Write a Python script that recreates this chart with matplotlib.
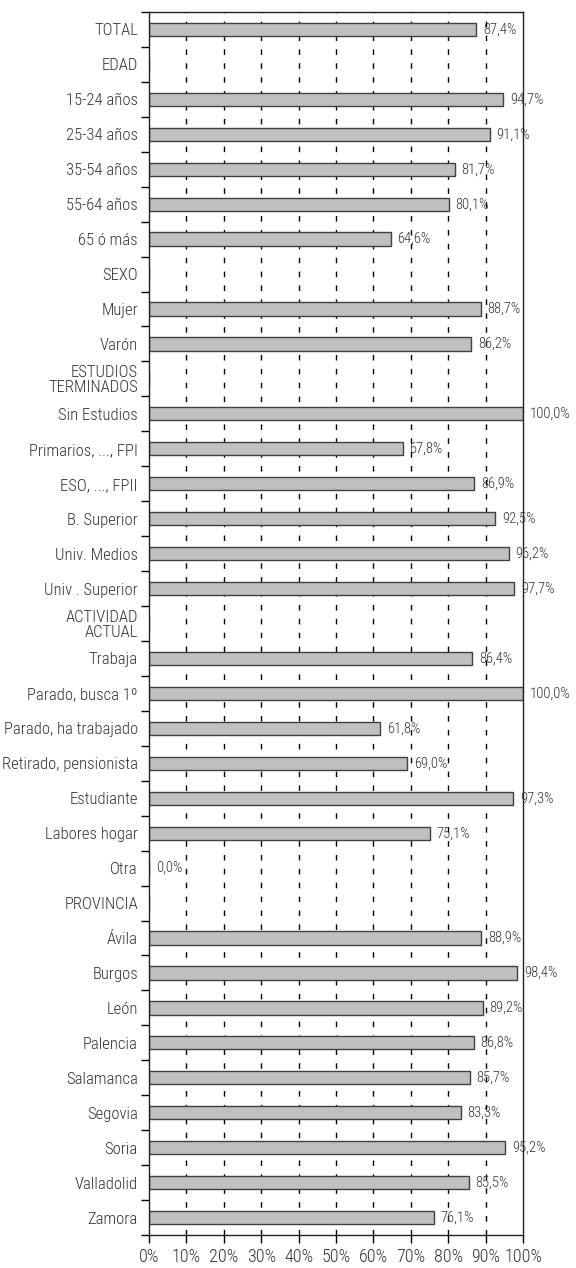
import numpy as np
import matplotlib
matplotlib.use("Agg")
import matplotlib.pyplot as plt
from matplotlib import font_manager as fm
from matplotlib.ticker import FixedLocator

# Categories top to bottom; headers have no value (None)
labels = [
    "TOTAL", "EDAD", "15-24 años", "25-34 años", "35-54 años", "55-64 años", "65 ó más",
    "SEXO", "Mujer", "Varón",
    "ESTUDIOS\nTERMINADOS", "Sin Estudios", "Primarios, ..., FPI", "ESO, ..., FPII",
    "B. Superior", "Univ. Medios", "Univ . Superior",
    "ACTIVIDAD\nACTUAL", "Trabaja", "Parado, busca 1º", "Parado, ha trabajado",
    "Retirado, pensionista", "Estudiante", "Labores hogar", "Otra",
    "PROVINCIA", "Ávila", "Burgos", "León", "Palencia", "Salamanca", "Segovia",
    "Soria", "Valladolid", "Zamora",
]
values = [
    87.4, None, 94.7, 91.1, 81.7, 80.1, 64.6,
    None, 88.7, 86.2,
    None, 100.0, 67.8, 86.9, 92.5, 96.2, 97.7,
    None, 86.4, 100.0, 61.8, 69.0, 97.3, 75.1, 0.0,
    None, 88.9, 98.4, 89.2, 86.8, 85.7, 83.3, 95.2, 85.5, 76.1,
]
xticks = [0, 10, 20, 30, 40, 50, 60, 70, 80, 90, 100]


def pick_narrow_font():
    # look for an installed narrow / condensed face, best guesses first
    prefs = ["liberationsansnarrow-regular", "opensans_condensed-light",
             "opensans-condensedlight", "opensans_condensed-regular",
             "robotocondensed-light", "robotocondensed-regular",
             "roboto_condensed-light", "roboto_condensed-regular",
             "dejavusanscondensed.ttf"]
    files = [f.fname for f in fm.fontManager.ttflist]
    for key in prefs:
        for p in files:
            if key in p.lower().replace(" ", ""):
                return fm.FontProperties(fname=p)
    for p in files:
        low = p.lower()
        if ("narrow" in low or "condensed" in low) and "bold" not in low and "italic" not in low:
            return fm.FontProperties(fname=p)
    return fm.FontProperties(family="DejaVu Sans")


fp = pick_narrow_font()
txt_color = '#333333'

fig = plt.figure(figsize=(5.76, 12.68), dpi=100)
ax = fig.add_axes([149 / 576, 1 - 1235 / 1268, (523 - 149) / 576, (1235 - 12) / 1268])

n = len(labels)
y = np.arange(n)
vals = np.array([np.nan if v is None else v for v in values])

# dashed grid
for xv in xticks[1:-1]:
    ax.axvline(xv, color='black', lw=1.0, ls=(0, (4, 6)), zorder=0)

ax.barh(y, np.nan_to_num(vals), height=0.38, color='#c0c0c0',
        edgecolor='#404040', linewidth=1.0, zorder=2)

for yi, v in zip(y, values):
    if v is None:
        continue
    txt = f"{v:.1f}%".replace('.', ',')
    ax.annotate(txt, xy=(v, yi), xytext=(5, 0), textcoords='offset points',
                va='center', ha='left', fontproperties=fp, fontsize=10.5,
                color=txt_color, zorder=3)

ax.set_xlim(0, 100)
ax.set_ylim(n - 0.5, -0.5)

ax.set_xticks(xticks)
ax.set_xticklabels([f"{t}%" for t in xticks])
ax.tick_params(axis='x', direction='out', length=6, width=1, pad=3)

ax.set_yticks(y)
ax.set_yticklabels(labels, linespacing=1.0)
ax.tick_params(axis='y', which='major', length=0, pad=8)
ax.yaxis.set_minor_locator(FixedLocator(np.arange(-0.5, n, 1.0)))
ax.tick_params(axis='y', which='minor', direction='out', length=6, width=1)

for lab in ax.get_yticklabels():
    lab.set_fontproperties(fp)
    lab.set_fontsize(12)
    lab.set_color(txt_color)
for lab in ax.get_xticklabels():
    lab.set_fontproperties(fp)
    lab.set_fontsize(13)
    lab.set_color(txt_color)

for s in ax.spines.values():
    s.set_color('#222222')
    s.set_linewidth(1.0)

fig.savefig("out.png", dpi=100)
